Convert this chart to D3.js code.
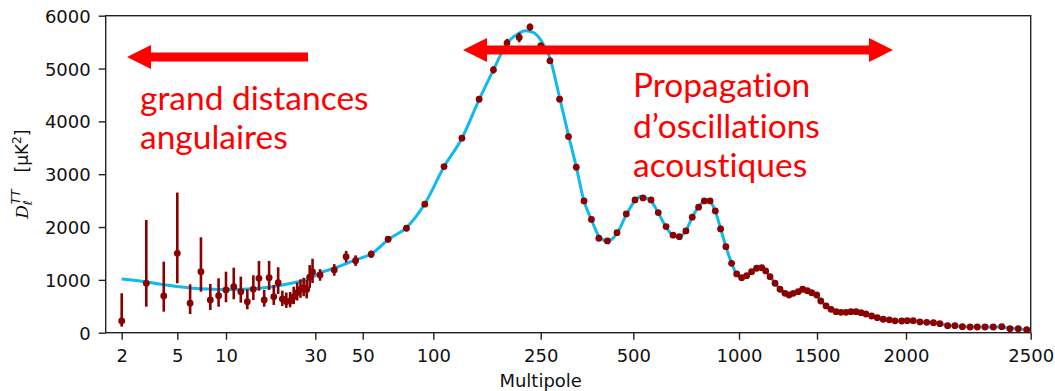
<!DOCTYPE html>
<html>
<head>
<meta charset="utf-8">
<script src="https://cdn.jsdelivr.net/npm/d3@7"></script>
<style>
  body { margin: 0; background: #fff; }
  .tick-text { font-family: 'DejaVu Sans', sans-serif; font-size: 18px; fill: #111; }
  .note { font-family: Lato, 'Open Sans', sans-serif; font-size: 33.5px; fill: #ff0000; font-variant-ligatures: none; }
</style>
</head>
<body>
<svg id="chart" width="1055" height="391"></svg>
<script>
// x axis ticks (log below 30, piecewise linear above)
const X_TICKS = [2, 5, 10, 30, 50, 100, 250, 500, 1000, 1500, 2000, 2500]
const Y_TICKS = [0, 1000, 2000, 3000, 4000, 5000, 6000]

// low multipoles, one per ell
const LOW_ELL = [2, 3, 4, 5, 6, 7, 8, 9, 10, 11, 12, 13, 14, 15, 16, 17, 18, 19, 20, 21, 22, 23, 24, 25, 26, 27, 28, 29]
const LOW_D = [221, 935, 695, 1503, 557, 1155, 619, 701, 809, 871, 777, 587, 822, 1030, 619, 1042, 682, 947, 638, 590, 600, 680, 760, 820, 850, 820, 1050, 1150]
const LOW_LO = [114, 493, 398, 935, 354, 777, 430, 492, 576, 633, 568, 443, 619, 795, 492, 809, 525, 733, 506, 470, 480, 540, 610, 660, 690, 650, 850, 940]
const LOW_HI = [746, 2134, 1345, 2652, 916, 1806, 922, 1030, 1155, 1231, 1061, 822, 1087, 1358, 809, 1358, 903, 1238, 795, 760, 770, 870, 950, 1010, 1040, 1000, 1280, 1400]

// binned multipoles
const HIGH_ELL = [32, 38, 43, 47, 56, 68, 81, 94, 115, 140, 164, 184, 203, 220, 235, 250, 275, 301, 325, 346,
  367, 387, 407, 430, 456, 481, 508, 546, 584, 618, 655, 688, 718, 749, 779, 809, 836, 863, 888, 913,
  938, 965, 989, 1017, 1049, 1081, 1113, 1146, 1171, 1199, 1231, 1263, 1295, 1321, 1348, 1380, 1408, 1438, 1466, 1498,
  1521, 1551, 1579, 1607, 1635, 1663, 1691, 1719, 1747, 1775, 1807, 1839, 1872, 1906, 1938, 1976, 2005, 2029, 2056, 2083,
  2110, 2136, 2167, 2196, 2226, 2257, 2286, 2317, 2350, 2384, 2417, 2450, 2484]
const HIGH_D = [1093, 1188, 1439, 1364, 1485, 1769, 1977, 2432, 3144, 3682, 4420, 4975, 5481, 5587, 5784, 5430, 5146, 4420, 3712, 3133,
  2494, 2144, 1788, 1737, 1894, 2248, 2513, 2551, 2513, 2273, 2008, 1845, 1818, 1926, 2186, 2375, 2494, 2494, 2305, 1964,
  1629, 1314, 1112, 1042, 1080, 1155, 1220, 1231, 1169, 1061, 936, 822, 746, 714, 746, 777, 822, 795, 758, 714,
  600, 506, 443, 398, 386, 386, 398, 398, 379, 354, 316, 284, 255, 243, 225, 221, 227, 227, 203, 197,
  190, 171, 133, 133, 114, 108, 108, 108, 108, 114, 76, 76, 57]
const HIGH_ERR = [110, 110, 110, 100, 70, 60, 50, 50, 50, 50, 60, 70, 80, 90, 70, 60, 60, 50, 40, 40,
  30, 30, 30, 30, 30, 30, 30, 30, 30, 30, 30, 30, 30, 30, 30, 30, 30, 30, 30, 30,
  25, 25, 25, 25, 25, 25, 25, 25, 25, 25, 25, 25, 25, 25, 25, 25, 25, 25, 25, 25,
  20, 20, 20, 20, 20, 20, 20, 20, 20, 20, 20, 20, 20, 20, 20, 20, 20, 20, 20, 20,
  20, 20, 20, 20, 20, 20, 20, 20, 20, 20, 20, 20, 20]

// best fit model
const MODEL_ELL = [2, 3, 4, 5, 7, 10, 13, 17, 22, 28, 33, 38, 47, 56, 69, 81, 94, 115, 140, 164,
  184, 203, 220, 228, 240, 250, 275, 301, 325, 346, 367, 387, 407, 430, 456, 481, 508, 535, 560, 584,
  618, 655, 688, 718, 749, 779, 809, 836, 850, 863, 888, 913, 938, 965, 989, 1017, 1049, 1081, 1113, 1146,
  1171, 1199, 1231, 1263, 1295, 1321, 1348, 1380, 1408, 1438, 1466, 1498, 1521, 1551, 1579, 1607, 1635, 1663, 1691, 1719,
  1747, 1775, 1807, 1839, 1872, 1906, 1938, 1976, 2005, 2029, 2056, 2083, 2110, 2136, 2167, 2196, 2226, 2257, 2286, 2317,
  2350, 2384, 2417, 2450, 2484, 2500]
const MODEL_D = [1015, 960, 910, 875, 830, 815, 825, 860, 930, 1030, 1150, 1220, 1377, 1490, 1780, 1990, 2440, 3140, 3680, 4410,
  4975, 5480, 5670, 5714, 5680, 5544, 5200, 4450, 3740, 3140, 2490, 2140, 1830, 1730, 1880, 2230, 2500, 2580, 2550, 2490,
  2270, 2000, 1840, 1815, 1935, 2185, 2385, 2490, 2500, 2480, 2300, 1970, 1630, 1315, 1110, 1045, 1080, 1155, 1215, 1230,
  1170, 1060, 940, 825, 748, 720, 745, 780, 815, 800, 760, 710, 605, 510, 445, 400, 387, 386, 396, 398,
  380, 352, 316, 285, 256, 242, 226, 222, 225, 224, 205, 196, 189, 172, 138, 130, 115, 108, 107, 107,
  107, 110, 80, 75, 58, 55]

const WIDTH = 1055
const HEIGHT = 391
const MARGIN = { top: 15.7, right: 24.3, bottom: 58.3, left: 105.7 }
const width = WIDTH - MARGIN.left - MARGIN.right
const height = HEIGHT - MARGIN.top - MARGIN.bottom
// where each x tick sits, px from the left spine
const X_TICK_POS = [16, 71.6, 120.3, 209.6, 257, 327.6, 435, 527.6, 633.3, 711.3, 800.3, 925]
const RED = '#ff0000'
const DARKRED = '#8b0000'
const BLUE = '#10b9ee'

let xLow = d3.scaleLog().domain(X_TICKS.slice(0, 4)).range(X_TICK_POS.slice(0, 4))
let xHigh = d3.scaleLinear().domain(X_TICKS.slice(3)).range(X_TICK_POS.slice(3))
let xAxisScale = d3.scaleLinear().domain(X_TICKS).range(X_TICK_POS)
let yScale = d3.scaleLinear().domain([0, 6000]).range([height, 0])
let xPos = (l) => l < 30 ? xLow(l) : xHigh(l)

let prepareCanvas = function () {
  let svg = d3.select('#chart').html('')
  let canvas = svg.append('g')
    .classed('canvas', true)
    .attr('transform', `translate(${MARGIN.left}, ${MARGIN.top})`)
  canvas.append('g').classed('chart', true)
  canvas.append('g').classed('y-axis', true)
  canvas.append('g').classed('x-axis', true).attr('transform', `translate(0, ${height})`)
  canvas.append('rect')
    .attr('width', width)
    .attr('height', height)
    .attr('fill', 'none')
    .attr('stroke', '#222')
    .attr('stroke-width', 1.4)
  svg.append('g').classed('notes', true)
  return svg
}

let plotAxis = function () {
  let xg = d3.select('.x-axis')
    .call(d3.axisBottom(xAxisScale).tickValues(X_TICKS).tickFormat(d3.format('d')).tickSize(7).tickSizeOuter(0))
  xg.select('.domain').remove()
  xg.selectAll('.tick line').attr('stroke', '#222').attr('stroke-width', 1.4)
  xg.selectAll('.tick text')
    .attr('class', 'tick-text')
    .attr('y', 29)
    .attr('dy', 0)
  xg.append('text')
    .attr('class', 'tick-text')
    .attr('x', xAxisScale(250))
    .attr('y', 54)
    .attr('text-anchor', 'middle')
    .text('Multipole')

  let yg = d3.select('.y-axis')
    .call(d3.axisLeft(yScale).tickValues(Y_TICKS).tickFormat(d3.format('d')).tickSize(7).tickSizeOuter(0))
  yg.select('.domain').remove()
  yg.selectAll('.tick line').attr('stroke', '#222').attr('stroke-width', 1.4)
  yg.selectAll('.tick text')
    .attr('class', 'tick-text')
    .attr('x', -15)
    .attr('dy', '0.36em')

  // y label, rotated
  let lab = d3.select('#chart').append('text')
    .attr('transform', `translate(28, ${MARGIN.top + height * 0.5}) rotate(-90)`)
    .attr('text-anchor', 'middle')
    .style('font-family', "'DejaVu Sans', sans-serif")
    .style('font-size', '17px')
    .attr('fill', '#111')
  lab.append('tspan').style('font-family', "'DejaVu Serif', serif").style('font-style', 'italic').text('D')
  lab.append('tspan').attr('dy', 4).style('font-size', '12px').style('font-style', 'italic').text('ℓ')
  lab.append('tspan').attr('dx', -4).attr('dy', -12).style('font-size', '12px').style('font-style', 'italic').text('TT')
  lab.append('tspan').attr('dy', 8).text('\u2003[μK')
  lab.append('tspan').attr('dy', -7).style('font-size', '12px').text('2')
  lab.append('tspan').attr('dy', 7).text(']')
}

let plotData = function () {
  let chart = d3.select('.chart')
  let model = MODEL_ELL.map((l, i) => [xPos(l), yScale(MODEL_D[i])])
  let line = d3.line().curve(d3.curveMonotoneX)
  chart.append('path')
    .attr('d', line(model))
    .attr('fill', 'none')
    .attr('stroke', BLUE)
    .attr('stroke-width', 3)

  let low = LOW_ELL.map((l, i) => ({ l, d: LOW_D[i], lo: LOW_LO[i], hi: LOW_HI[i] }))
  let high = HIGH_ELL.map((l, i) => ({ l, d: HIGH_D[i], lo: HIGH_D[i] - HIGH_ERR[i], hi: HIGH_D[i] + HIGH_ERR[i] }))
  let pts = low.concat(high)
  chart.selectAll('line.err')
    .data(pts)
    .join('line')
    .classed('err', true)
    .attr('x1', (d) => xPos(d.l))
    .attr('x2', (d) => xPos(d.l))
    .attr('y1', (d) => yScale(d.lo))
    .attr('y2', (d) => yScale(d.hi))
    .attr('stroke', DARKRED)
    .attr('stroke-width', 2.6)
  chart.selectAll('circle.pt')
    .data(pts)
    .join('circle')
    .classed('pt', true)
    .attr('cx', (d) => xPos(d.l))
    .attr('cy', (d) => yScale(d.d))
    .attr('r', 3.4)
    .attr('fill', DARKRED)
}

let arrow = function (g, x1, x2, y, both) {
  // x1 is the tip, x2 the tail (or the other tip)
  const HEAD = 24, HALF = 12, SHAFT = 4.6
  let s = Math.sign(x2 - x1)
  let p = d3.path()
  p.moveTo(x1, y)
  p.lineTo(x1 + s * HEAD, y - HALF)
  p.lineTo(x1 + s * HEAD, y - SHAFT)
  if (both) {
    p.lineTo(x2 - s * HEAD, y - SHAFT)
    p.lineTo(x2 - s * HEAD, y - HALF)
    p.lineTo(x2, y)
    p.lineTo(x2 - s * HEAD, y + HALF)
    p.lineTo(x2 - s * HEAD, y + SHAFT)
  } else {
    p.lineTo(x2, y - SHAFT)
    p.lineTo(x2, y + SHAFT)
  }
  p.lineTo(x1 + s * HEAD, y + SHAFT)
  p.lineTo(x1 + s * HEAD, y + HALF)
  p.closePath()
  g.append('path').attr('d', p.toString()).attr('fill', RED)
}

let plotNotes = function () {
  let g = d3.select('.notes')
  arrow(g, 127, 308, 57, false)
  arrow(g, 463, 893, 50, true)
  let left = g.append('text').attr('class', 'note')
  left.append('tspan').attr('x', 140).attr('y', 110).text('grand distances')
  left.append('tspan').attr('x', 140).attr('y', 149).text('angulaires')
  let right = g.append('text').attr('class', 'note')
  right.append('tspan').attr('x', 633).attr('y', 97).text('Propagation')
  right.append('tspan').attr('x', 633).attr('y', 138).text('d’oscillations')
  right.append('tspan').attr('x', 633).attr('y', 177).text('acoustiques')
}

prepareCanvas()
plotAxis()
plotData()
plotNotes()
</script>
</body>
</html>
